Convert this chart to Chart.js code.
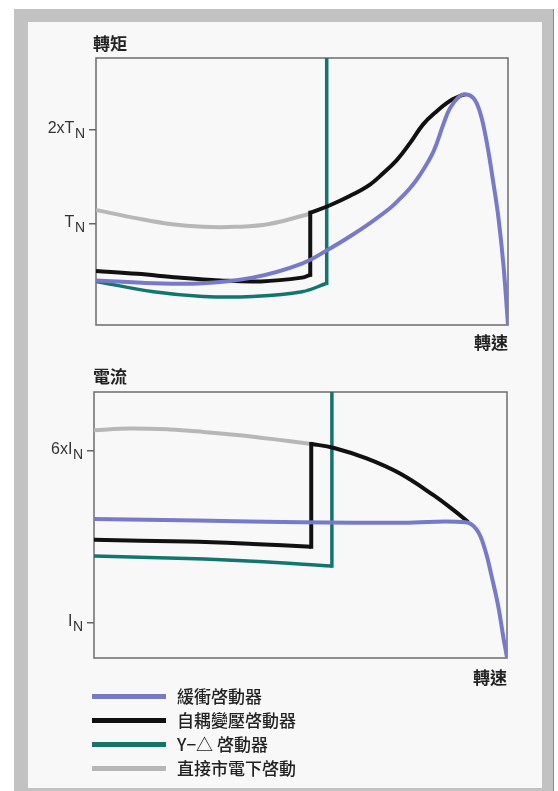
<!DOCTYPE html>
<html>
<head>
<meta charset="utf-8">
<script src="https://cdn.jsdelivr.net/npm/chart.js@4.4.1/dist/chart.umd.min.js"></script>
<style>
html,body{margin:0;padding:0;background:#fff;width:558px;height:791px;overflow:hidden;position:relative}
#frame{position:absolute;left:14px;top:9px;width:539px;height:782px;background:#c2c2c2;border-right:1px solid #8a8a8a}
#paper{position:absolute;left:28px;top:22px;width:514px;height:766px;background:#f8f8f8}
canvas{position:absolute;left:0}
#legend{position:absolute;left:92px;top:684px;width:300px;height:100px}
.row{position:absolute;left:0;height:24px;width:300px}
.sw{position:absolute;left:0;top:9.5px;width:74px;height:5px}
.lb{position:absolute;left:85px;top:0;font-family:"Noto Sans CJK TC","Noto Sans CJK JP",sans-serif;font-weight:500;font-size:17px;line-height:24px;color:#222;white-space:nowrap}
</style>
</head>
<body>
<div id="frame"></div>
<div id="paper"></div>
<canvas id="torque" width="558" height="360" style="top:0;width:558px;height:360px"></canvas>
<canvas id="current" width="558" height="360" style="top:340px;width:558px;height:360px"></canvas>
<div id="legend"></div>
<script>
// ---------- series ----------
const seriesNames  = ['緩衝啓動器', '自耦變壓啓動器', 'Y−△ 啓動器', '直接市電下啓動'];
const seriesColors = ['#7779c9', '#111111', '#137570', '#b7b7b7'];

// ---------- torque chart (multiples of T_N vs speed 0..1) ----------
const torqueTickValues = [2, 1];
const torqueTickLabels = ['2xT_N', 'T_N'];

const softTorqueSpeed = [0, 0.14, 0.26, 0.38, 0.50, 0.568, 0.617, 0.665, 0.714, 0.738, 0.762, 0.786, 0.819, 0.843, 0.859, 0.880, 0.896, 0.916, 0.932, 0.948, 0.964, 0.977, 0.989, 1.0];
const softTorque      = [0.40, 0.37, 0.37, 0.43, 0.58, 0.74, 0.87, 1.01, 1.17, 1.27, 1.38, 1.52, 1.77, 2.06, 2.23, 2.35, 2.38, 2.34, 2.19, 1.88, 1.45, 1.06, 0.56, -0.07];

const autoTorqueSpeedLow = [0, 0.10, 0.20, 0.30, 0.40, 0.50, 0.52];
const autoTorqueLow      = [0.50, 0.47, 0.43, 0.40, 0.39, 0.43, 0.46];
const autoTorqueSpeedHigh = [0.52, 0.568, 0.617, 0.665, 0.697, 0.730, 0.762, 0.794, 0.827, 0.859, 0.883, 0.896];
const autoTorqueHigh      = [1.12, 1.20, 1.30, 1.42, 1.54, 1.68, 1.86, 2.06, 2.20, 2.31, 2.36, 2.38];

const starDeltaTorqueSpeed = [0, 0.14, 0.26, 0.38, 0.50, 0.56];
const starDeltaTorque      = [0.39, 0.28, 0.23, 0.23, 0.28, 0.37];
const starDeltaTorqueJump  = 3.0;   // runs off the top of the chart

const directTorqueSpeed = [0, 0.10, 0.18, 0.26, 0.34, 0.42, 0.52];
const directTorque      = [1.15, 1.06, 1.00, 0.97, 0.97, 1.00, 1.11];

// ---------- current chart (multiples of I_N vs speed 0..1) ----------
const currentTickValues = [6, 1];
const currentTickLabels = ['6xI_N', 'I_N'];

const softCurrentSpeed = [0, 0.25, 0.50, 0.75, 0.90, 0.927, 0.947, 0.963, 0.979, 0.991, 1.0];
const softCurrent      = [4.03, 3.98, 3.93, 3.92, 3.93, 3.71, 3.13, 2.35, 1.48, 0.60, 0.0];

const autoCurrentSpeedLow = [0, 0.224, 0.385, 0.526];
const autoCurrentLow      = [3.42, 3.37, 3.30, 3.22];
const autoCurrentSpeedHigh = [0.526, 0.579, 0.66, 0.741, 0.822, 0.87, 0.906];
const autoCurrentHigh      = [6.21, 6.10, 5.79, 5.35, 4.72, 4.29, 3.94];

const starDeltaCurrentSpeed = [0, 0.224, 0.385, 0.576];
const starDeltaCurrent      = [2.95, 2.88, 2.80, 2.66];
const starDeltaCurrentJump  = 8.5;  // runs off the top of the chart

const directCurrentSpeed = [0, 0.087, 0.184, 0.265, 0.346, 0.434, 0.526];
const directCurrent      = [6.61, 6.66, 6.63, 6.56, 6.47, 6.35, 6.21];

// ---------- helpers ----------
const lineWidths = [4, 4, 3.5, 4];
function pts(xs, ys) { return xs.map((x, i) => ({x: x, y: ys[i]})); }
function curve(s, xs, ys) {
  return {label: seriesNames[s], data: pts(xs, ys), borderColor: seriesColors[s], borderWidth: lineWidths[s],
    order: s, tension: 0.4, pointRadius: 0, fill: false,
    borderCapStyle: 'butt', borderJoinStyle: 'round'};
}
function step(s, x, y0, y1) {
  return {label: seriesNames[s], data: [{x: x, y: y0}, {x: x, y: y1}], borderColor: seriesColors[s], borderWidth: lineWidths[s],
    order: s, tension: 0, pointRadius: 0, fill: false, borderCapStyle: 'square', borderJoinStyle: 'miter'};
}
const last = a => a[a.length - 1];

const frameBox = {
  id: 'frameBox',
  beforeDatasetsDraw(chart, args, opts) {
    const {ctx, chartArea: a} = chart;
    ctx.save();
    ctx.strokeStyle = opts.color;
    ctx.lineWidth = opts.width;
    ctx.strokeRect(a.left, a.top, a.right - a.left, a.bottom - a.top);
    ctx.restore();
  }
};
const subTicks = {
  id: 'subTicks',
  afterDraw(chart, args, opts) {
    const s = chart.scales.y, ctx = chart.ctx;
    ctx.save();
    ctx.fillStyle = opts.color;
    ctx.textAlign = 'right';
    ctx.textBaseline = 'middle';
    opts.values.forEach((v, i) => {
      const parts = opts.labels[i].split('_');
      const y = s.getPixelForValue(v);
      const xr = s.right - opts.gap;
      ctx.font = opts.subFont;
      const sw = ctx.measureText(parts[1]).width;
      ctx.fillText(parts[1], xr, y + 4);
      ctx.font = opts.mainFont;
      ctx.fillText(parts[0], xr - sw - 0.5, y - 1.5);
    });
    ctx.restore();
  }
};

function makeChart(id, o) {
  const titleFont = {family: '"Noto Sans CJK TC", "Noto Sans CJK JP", sans-serif', size: 17, weight: 'bold', lineHeight: 1.2};
  return new Chart(document.getElementById(id), {
    type: 'line',
    data: {datasets: o.datasets},
    options: {
      responsive: false, animation: false, events: [], devicePixelRatio: 1,
      layout: {padding: o.padding},
      plugins: {
        legend: {display: false}, tooltip: {enabled: false},
        title: {display: true, text: o.title, align: 'start', color: '#222', font: titleFont, padding: o.titlePad},
        frameBox: {color: '#6c6c6c', width: 1.5},
        subTicks: {values: o.tickValues, labels: o.tickLabels, color: '#333', gap: 11,
          mainFont: '16px "Liberation Sans", Arial, sans-serif', subFont: '14px "Liberation Sans", Arial, sans-serif'}
      },
      scales: {
        x: {type: 'linear', min: 0, max: 1, grid: {display: false}, border: {display: false}, ticks: {display: false},
          title: {display: true, text: '轉速', align: 'end', color: '#222', font: titleFont, padding: {top: 0, bottom: o.xTitlePad}},
          afterFit: s => { s.height = o.xAxisH; }},
        y: {type: 'linear', min: o.yMin, max: o.yMax,
          grid: {drawOnChartArea: false, drawTicks: true, tickLength: 7, color: '#666', lineWidth: 1.5},
          border: {display: false}, ticks: {display: false},
          afterBuildTicks: s => { s.ticks = o.tickValues.map(v => ({value: v})); },
          afterFit: s => { s.width = o.yAxisW; }}
      }
    },
    plugins: [frameBox, subTicks]
  });
}

makeChart('torque', {
  title: '轉矩', tickValues: torqueTickValues, tickLabels: torqueTickLabels,
  yMin: -0.074, yMax: 2.766,
  padding: {top: 24, left: 93, right: 50, bottom: 0}, titlePad: {top: 9, bottom: 4.6},
  yAxisW: 3, xAxisH: 35, xTitlePad: 6.8,
  datasets: [
    curve(0, softTorqueSpeed, softTorque),
    curve(1, autoTorqueSpeedLow, autoTorqueLow),
    step(1, last(autoTorqueSpeedLow), last(autoTorqueLow), autoTorqueHigh[0]),
    curve(1, autoTorqueSpeedHigh, autoTorqueHigh),
    curve(2, starDeltaTorqueSpeed, starDeltaTorque),
    step(2, last(starDeltaTorqueSpeed), last(starDeltaTorque), starDeltaTorqueJump),
    curve(3, directTorqueSpeed, directTorque)
  ]
});

makeChart('current', {
  title: '電流', tickValues: currentTickValues, tickLabels: currentTickLabels,
  yMin: -0.015, yMax: 7.72,
  padding: {top: 18, left: 93, right: 51, bottom: 0}, titlePad: {top: 8.8, bottom: 4.8},
  yAxisW: 1, xAxisH: 42, xTitlePad: 11.8,
  datasets: [
    curve(0, softCurrentSpeed, softCurrent),
    curve(1, autoCurrentSpeedLow, autoCurrentLow),
    step(1, last(autoCurrentSpeedLow), last(autoCurrentLow), autoCurrentHigh[0]),
    curve(1, autoCurrentSpeedHigh, autoCurrentHigh),
    curve(2, starDeltaCurrentSpeed, starDeltaCurrent),
    step(2, last(starDeltaCurrentSpeed), last(starDeltaCurrent), starDeltaCurrentJump),
    curve(3, directCurrentSpeed, directCurrent)
  ]
});

// ---------- legend ----------
const legend = document.getElementById('legend');
seriesNames.forEach((name, i) => {
  const row = document.createElement('div');
  row.className = 'row';
  row.style.top = (i * 24) + 'px';
  const sw = document.createElement('div');
  sw.className = 'sw';
  sw.style.background = seriesColors[i];
  const lb = document.createElement('div');
  lb.className = 'lb';
  lb.textContent = name;
  row.appendChild(sw);
  row.appendChild(lb);
  legend.appendChild(row);
});
</script>
</body>
</html>
